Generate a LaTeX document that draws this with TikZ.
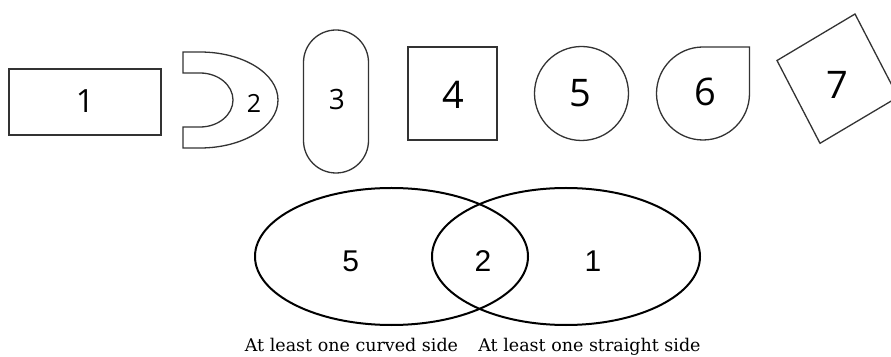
\documentclass[tikz,border=0pt]{standalone}
\usepackage{fontspec}
\setmainfont{Liberation Serif}
\newfontfamily\shapefont{Open Sans}
\newfontfamily\vennfont{Liberation Sans}
\newfontfamily\capfont{DejaVu Serif}
\begin{document}
\begin{tikzpicture}[x=1pt,y=1pt,
  shapeline/.style={draw=black!80,line width=1.3pt},
  vennline/.style={draw=black,line width=2pt},
  lab/.style={inner sep=0pt,font=\shapefont\fontsize{38}{40}\selectfont},
  vlab/.style={inner sep=0pt,font=\vennfont\fontsize{30}{32}\selectfont},
  caption/.style={inner sep=0pt,anchor=base,font=\capfont\fontsize{17.5}{19}\selectfont}]
\clip (0,0) rectangle (891,356);
% shape 1
\draw[shapeline] (9,287) rectangle (161,221);
\node[lab,font=\shapefont\fontsize{32}{34}\selectfont] (l1) at (85,255) {1};
% shape 2
\draw[shapeline] (183,304) -- (200,304) arc[start angle=90,end angle=-90,x radius=78,y radius=48]
  -- (183,208) -- (183,229) -- (200,229) arc[start angle=-90,end angle=90,x radius=33,y radius=27]
  -- (183,283) -- cycle;
\node[lab,font=\shapefont\fontsize{25}{27}\selectfont] (l2) at (254,253) {2};
% shape 3
\draw[shapeline,rounded corners=32.5pt] (303.5,183) rectangle (368.5,326);
\node[lab,font=\shapefont\fontsize{28}{30}\selectfont] (l3) at (337,256) {3};
% shape 4
\draw[shapeline] (408,309) rectangle (497,216);
\node[lab] (l4) at (453,261) {4};
% shape 5
\draw[shapeline] (581.5,262.5) circle[radius=47];
\node[lab] (l5) at (580,263) {5};
% shape 6
\draw[shapeline] (703,309) -- (749.5,309) -- (749.5,262.5) arc[start angle=0,end angle=-270,radius=46.5] -- cycle;
\node[lab] (l6) at (705,264) {6};
% shape 7
\draw[shapeline] (855,342) -- (777,295.5) -- (820,212.7) -- (898,259) -- cycle;
\node[lab] (l7) at (837,271) {7};
% venn
\draw[vennline] (391.5,99.5) ellipse[x radius=136.5,y radius=68.5];
\draw[vennline] (566,99.5) ellipse[x radius=134,y radius=68.5];
\node[vlab] (v5) at (350.7,94.5) {5};
\node[vlab] (v2) at (483,94.5) {2};
\node[vlab] (v1) at (593,94.5) {1};
\node[caption] (c1) at (351.5,5) {At least one curved side};
\node[caption] (c2) at (589.5,5) {At least one straight side};
\end{tikzpicture}
\end{document}
